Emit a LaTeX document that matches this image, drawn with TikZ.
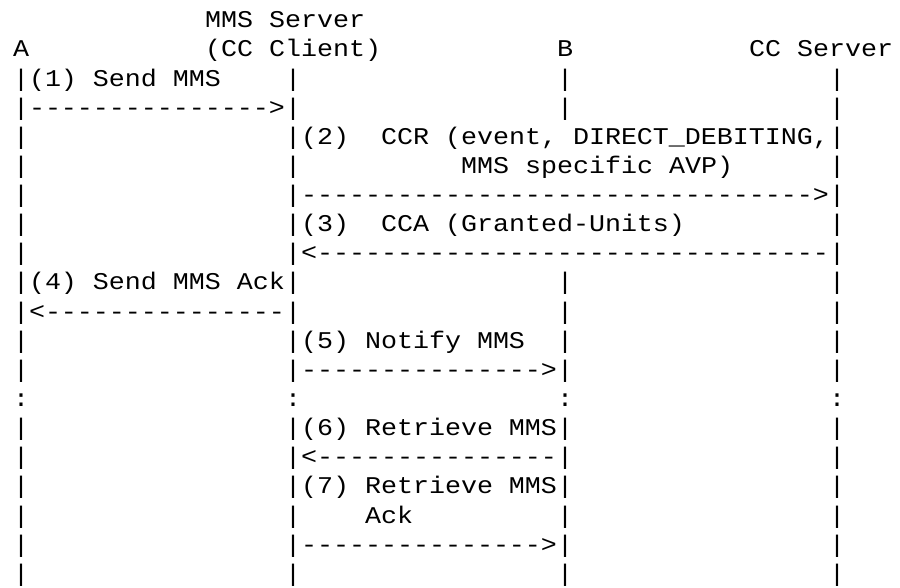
\documentclass[tikz,border=0pt]{standalone}
\usepackage{fontspec}
\setmonofont{Liberation Mono}[FakeStretch=1.1111]
\newcommand\rowy[1]{-(86+29.14*(#1-3))}
\newcommand\colx[1]{13+16*#1}
\tikzset{
  asc/.style={inner sep=0pt, outer sep=0pt, anchor=base west,
    font=\ttfamily\fontsize{24}{29}\selectfont, text=black}
}
\begin{document}
\begin{tikzpicture}[x=1pt,y=1pt]
\useasboundingbox[fill=white] (0,0) rectangle (900,-587);
% headers
\node[asc] (mmsA) at ({\colx{12}},{\rowy{1}}) {MMS Server};
\node[asc] (hA)   at ({\colx{0}},{\rowy{2}}) {A};
\node[asc] (mmsB) at ({\colx{12}},{\rowy{2}}) {(CC Client)};
\node[asc] (hB)   at ({\colx{34}},{\rowy{2}}) {B};
\node[asc] (hS)   at ({\colx{46}},{\rowy{2}}) {CC Server};
% lifelines
\foreach \c/\nm in {0/a,17/m,51/s}{
  \foreach \r in {3,...,13,15,16,17,18,19,20}
    \node[asc] (\nm\r) at ({\colx{\c}},{\rowy{\r}}) {\textbar};
  \node[asc] (\nm14) at ({\colx{\c}},{\rowy{14}}) {:};
}
\foreach \r in {3,4,10,11,12,13,15,16,17,18,19,20}
  \node[asc] (b\r) at ({\colx{34}},{\rowy{\r}}) {\textbar};
\node[asc] (b14) at ({\colx{34}},{\rowy{14}}) {:};
% messages
\node[asc] (m1)  at ({\colx{1}},{\rowy{3}}) {(1) Send MMS};
\node[asc] (m1a) at ({\colx{1}},{\rowy{4}}) {--------------->};
\node[asc] (m2n) at ({\colx{18}},{\rowy{5}}) {(2)};
\node[asc] (m2)  at ({\colx{23}},{\rowy{5}}) {CCR (event, DIRECT\_DEBITING,};
\node[asc] (m2b) at ({\colx{28}},{\rowy{6}}) {MMS specific AVP)};
\node[asc] (m2a) at ({\colx{18}},{\rowy{7}}) {-------------------------------->};
\node[asc] (m3n) at ({\colx{18}},{\rowy{8}}) {(3)};
\node[asc] (m3)  at ({\colx{23}},{\rowy{8}}) {CCA (Granted-Units)};
\node[asc] (m3a) at ({\colx{18}},{\rowy{9}}) {<--------------------------------};
\node[asc] (m4)  at ({\colx{1}},{\rowy{10}}) {(4) Send MMS Ack};
\node[asc] (m4a) at ({\colx{1}},{\rowy{11}}) {<---------------};
\node[asc] (m5)  at ({\colx{18}},{\rowy{12}}) {(5) Notify MMS};
\node[asc] (m5a) at ({\colx{18}},{\rowy{13}}) {--------------->};
\node[asc] (m6)  at ({\colx{18}},{\rowy{15}}) {(6) Retrieve MMS};
\node[asc] (m6a) at ({\colx{18}},{\rowy{16}}) {<---------------};
\node[asc] (m7)  at ({\colx{18}},{\rowy{17}}) {(7) Retrieve MMS};
\node[asc] (m7b) at ({\colx{22}},{\rowy{18}}) {Ack};
\node[asc] (m7a) at ({\colx{18}},{\rowy{19}}) {--------------->};
\end{tikzpicture}
\end{document}
